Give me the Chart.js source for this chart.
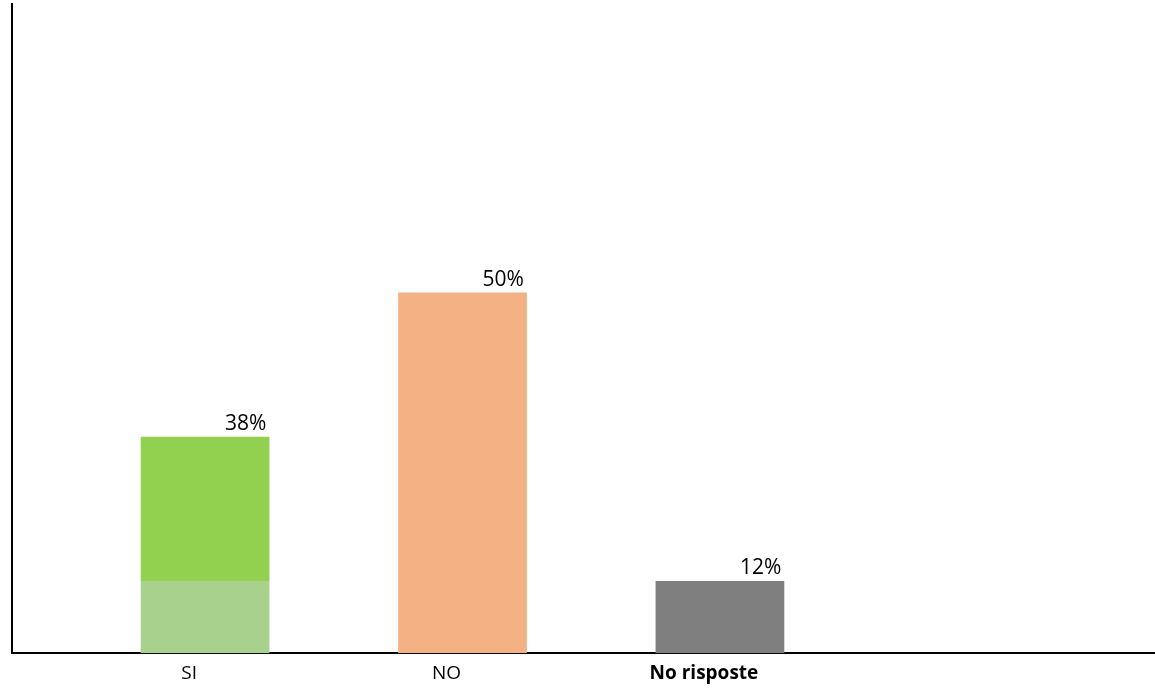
<!DOCTYPE html>
<html>
<head>
<meta charset="utf-8">
<script src="https://cdn.jsdelivr.net/npm/chart.js@4"></script>
<style>
  html, body { margin: 0; padding: 0; background: #fff; }
  #wrap { width: 1155px; height: 688px; }
</style>
</head>
<body>
<div id="wrap"><canvas id="chart"></canvas></div>
<script>
// categories and values (bar heights in axis units)
const categories = ['SI', 'NO', 'No risposte'];
const baseValues = [10, 50, 10];      // lower segment of each bar
const topValues = [20, 0, 0];         // upper (darker) segment, only SI has one
const pctLabels = ['38%', '50%', '12%'];

const baseColors = ['#A9D18E', '#F4B183', '#7F7F7F'];
const topColor = '#92D050';

const FONT = "'Open Sans', 'Noto Sans', sans-serif";

// draws the percentage text above the right edge of each bar
const barLabels = {
  id: 'barLabels',
  afterDatasetsDraw(chart) {
    const ctx = chart.ctx;
    ctx.save();
    ctx.font = '21px ' + FONT;
    ctx.fillStyle = '#000';
    ctx.textAlign = 'right';
    ctx.textBaseline = 'alphabetic';
    categories.forEach((c, i) => {
      let el = null;
      chart.data.datasets.forEach((ds, d) => {
        if (ds.data[i].y > 0) el = chart.getDatasetMeta(d).data[i];
      });
      if (!el) return;
      ctx.fillText(pctLabels[i], el.x + el.width / 2 - 3, el.y - 7);
    });
    ctx.restore();
  }
};

new Chart(document.getElementById('chart'), {
  type: 'bar',
  data: {
    datasets: [
      {
        data: baseValues.map((v, i) => ({ x: i, y: v })),
        backgroundColor: baseColors,
        categoryPercentage: 1,
        barPercentage: 0.5
      },
      {
        data: topValues.map((v, i) => ({ x: i, y: v })),
        backgroundColor: topColor,
        categoryPercentage: 1,
        barPercentage: 0.5
      }
    ]
  },
  options: {
    responsive: true,
    maintainAspectRatio: false,
    animation: false,
    layout: { padding: { left: 12, right: 0, top: 4, bottom: -6 } },
    plugins: {
      legend: { display: false },
      tooltip: { enabled: false }
    },
    scales: {
      x: {
        type: 'linear',
        stacked: true,
        offset: false,
        min: -0.75,
        max: 3.69,
        afterBuildTicks: (scale) => {
          scale.ticks = categories.map((c, i) => ({ value: i }));
        },
        grid: { display: false, drawTicks: false },
        border: { display: true, color: '#000', width: 2 },
        ticks: {
          color: '#000',
          padding: 9,
          labelOffset: -16,
          maxRotation: 0,
          callback: (v) => categories[v],
          font: (ctx) => ({
            family: FONT,
            size: 19,
            weight: ctx.index === 2 ? 'bold' : 'normal'
          })
        }
      },
      y: {
        stacked: true,
        min: 0,
        max: 90,
        grid: { display: false, drawTicks: false },
        border: { display: true, color: '#000', width: 2 },
        ticks: { display: false }
      }
    }
  },
  plugins: [barLabels]
});
</script>
</body>
</html>
